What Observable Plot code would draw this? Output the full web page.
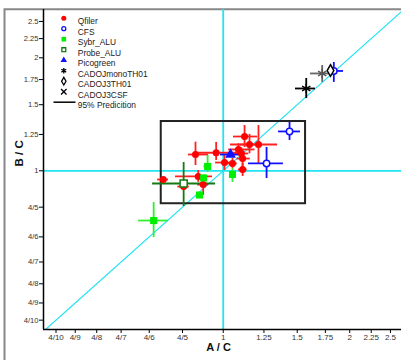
<!DOCTYPE html>
<html><head><meta charset="utf-8">
<script src="https://cdn.jsdelivr.net/npm/d3@7"></script>
<script src="https://cdn.jsdelivr.net/npm/@observablehq/plot@0.6"></script>
<style>body{margin:0;background:white;} svg{display:block;}</style>
</head><body><div id="chart"></div>
<script>
// tick values and labels (same on both axes)
const tickValues = [0.4, 4/9, 0.5, 4/7, 4/6, 0.8, 1, 1.25, 1.5, 1.75, 2, 2.25, 2.5];
const tickLabels = ["4/10","4/9","4/8","4/7","4/6","4/5","1","1.25","1.5","1.75","2","2.25","2.5"];
const xDomain = [0.3735, 2.656];
const yDomain = [0.3777, 2.69];

// rows: [x, y, xLow, xHigh, yLow, yHigh]
const qfiler = [
  [0.720, 0.948, 0.698, 0.741, 0.936, 0.960],
  [0.805, 0.908, 0.780, 0.830, 0.890, 0.925],
  [0.859, 1.105, 0.827, 0.923, 1.033, 1.192],
  [0.962, 1.117, 0.859, 1.081, 1.065, 1.190],
  [0.872, 0.966, 0.770, 0.943, 0.931, 1.002],
  [0.896, 0.919, 0.869, 0.923, 0.860, 0.954],
  [1.007, 1.052, 0.959, 1.070, 1.002, 1.098],
  [1.052, 1.046, 1.017, 1.080, 1.015, 1.078],
  [1.112, 1.078, 1.078, 1.160, 1.015, 1.140],
  [1.112, 1.008, 1.087, 1.140, 0.966, 1.046],
  [1.087, 1.140, 1.030, 1.190, 1.100, 1.180],
  [1.105, 1.112, 1.060, 1.150, 1.070, 1.150],
  [1.124, 1.234, 1.058, 1.207, 1.154, 1.320],
  [1.155, 1.175, 1.100, 1.240, 1.110, 1.250],
  [1.213, 1.175, 1.041, 1.347, 1.046, 1.320]
];
const cfs = [
  [1.268, 1.046, 1.149, 1.391, 0.954, 1.154],
  [1.438, 1.273, 1.354, 1.527, 1.204, 1.345],
  [1.833, 1.845, 1.770, 1.933, 1.720, 1.943]
];
const sybrAlu = [
  [0.918, 1.027, 0.900, 0.935, 0.990, 1.098],
  [0.898, 0.957, 0.885, 0.910, 0.940, 0.975],
  [0.878, 0.862, 0.870, 0.886, 0.855, 0.870],
  [1.052, 0.978, 1.040, 1.065, 0.931, 1.014],
  [0.683, 0.737, 0.629, 0.741, 0.664, 0.823]
];
const probeAlu = [[0.805, 0.925, 0.679, 0.959, 0.803, 1.052]];
const picogreen = [[1.041, 1.105, 0.985, 1.099, 1.095, 1.115]];
const cadojMonoTH01 = [[1.576, 1.657, 1.486, 1.658, 1.558, 1.762]];
const cadoj3TH01 = [[1.800, 1.850, 1.770, 1.840, 1.820, 1.880]];
const cadoj3CSF = [[1.720, 1.817, 1.613, 1.830, 1.720, 1.908]];

// prediction box [xLow, xHigh, yLow, yHigh]
const predictionBox = [[0.712, 1.57, 0.817, 1.353]];
const diagonal = [0.3, 3];

const series = [
  {name:"Qfiler", data:qfiler, symbol:"circle", fill:"#ff0000", stroke:"none", bar:"#ff2020", r:3.5, lr:2.5, ls:"none"},
  {name:"CFS", data:cfs, symbol:"circle", fill:"white", stroke:"#1010ff", bar:"#1010ff", r:3.2, lr:2, ls:"#1010ff"},
  {name:"Sybr_ALU", data:sybrAlu, symbol:"square", fill:"#00ee00", stroke:"none", bar:"#30ee30", r:4, lr:2.6, ls:"none"},
  {name:"Probe_ALU", data:probeAlu, symbol:"square", fill:"white", stroke:"#137a13", bar:"#137a13", r:4, lr:2.2, ls:"#137a13"},
  {name:"Picogreen", data:picogreen, symbol:"triangle", fill:"#1010ff", stroke:"none", bar:"#1010ff", r:4, lr:2.4, ls:"none"},
  {name:"CADOJmonoTH01", data:cadojMonoTH01, symbol:"asterisk", fill:"none", stroke:"black", bar:"black", r:4.5, lr:2.6, ls:"black"},
  {name:"CADOJ3TH01", data:cadoj3TH01, symbol:"diamond", fill:"white", stroke:"black", bar:"#333", r:3.5, lr:2.3, ls:"black"},
  {name:"CADOJ3CSF", data:cadoj3CSF, symbol:"asterisk", fill:"none", stroke:"#555", bar:"#666", r:4.5, lr:2.6, ls:"black", lsym:"times"}
];
const legendNames = ["Qfiler","CFS","Sybr_ALU","Probe_ALU","Picogreen","CADOJmonoTH01","CADOJ3TH01","CADOJ3CSF","95% Predicition"];

const lineSymbol = {draw(ctx){ ctx.moveTo(-11,0); ctx.lineTo(11,0); }};

const marks = [
  Plot.ruleX([1], {stroke:"#22e4f0", strokeWidth:1.8}),
  Plot.ruleY([1], {stroke:"#22e4f0", strokeWidth:1.8}),
  Plot.line(diagonal, {x:d=>d, y:d=>d, stroke:"#22e4f0", strokeWidth:1.2, clip:true}),
  Plot.rect(predictionBox, {x1:d=>d[0], x2:d=>d[1], y1:d=>d[2], y2:d=>d[3], fill:"none", stroke:"#222", strokeWidth:2})
];
for (const s of series) {
  marks.push(Plot.ruleY(s.data, {y:d=>d[1], x1:d=>d[2], x2:d=>d[3], stroke:s.bar, strokeWidth:1.8}));
  marks.push(Plot.ruleX(s.data, {x:d=>d[0], y1:d=>d[4], y2:d=>d[5], stroke:s.bar, strokeWidth:1.8}));
}
for (const s of series) {
  marks.push(Plot.dot(s.data, {x:d=>d[0], y:d=>d[1], symbol:s.symbol, r:s.r, fill:s.fill, stroke:s.stroke, strokeWidth:1.5}));
}
// axes
marks.push(
  Plot.ruleX([xDomain[0]], {stroke:"black", strokeWidth:1.5}),
  Plot.ruleY([yDomain[0]], {stroke:"black", strokeWidth:1.5}),
  Plot.axisX(tickValues, {tickFormat:() => "", tickSize:4, stroke:"black", label:null}),
  Plot.axisY(tickValues, {tickFormat:() => "", tickSize:4, stroke:"black", label:null}),
  Plot.text(tickValues, {x:d=>d, text:(d,i)=>tickLabels[i], frameAnchor:"bottom", dy:10, fontSize:8, fill:"#333"}),
  Plot.text(tickValues, {y:d=>d, text:(d,i)=>tickLabels[i], frameAnchor:"left", dx:-5, textAnchor:"end", fontSize:7.6, fill:"#333"}),
  Plot.text(["A / C"], {frameAnchor:"bottom", dx:-4, dy:21.5, fontWeight:"bold", fontSize:11, fill:"#111"}),
  Plot.text(["B / C"], {frameAnchor:"left", dx:-24, dy:-3, rotate:-90, fontWeight:"bold", fontSize:11.5, fill:"#111"})
);
// legend
legendNames.forEach((name, i) => {
  const s = series.find(t => t.name === name);
  const dy = 8.7 + 10.5 * i;
  if (s) {
    marks.push(Plot.dot([name], {frameAnchor:"top-left", dx:20.3, dy, symbol:s.lsym || s.symbol, r:s.lr, fill:s.fill, stroke:s.ls, strokeWidth:1.3}));
  } else {
    marks.push(Plot.dot([name], {frameAnchor:"top-left", dx:21, dy, symbol:lineSymbol, r:5, stroke:"black", strokeWidth:1.5}));
  }
  marks.push(Plot.text([name], {frameAnchor:"top-left", dx:34.3, dy, text:d=>d, textAnchor:"start", fill:"#222", fontSize:8.4}));
});

const plot = Plot.plot({
  width:401, height:360,
  marginLeft:43, marginRight:0, marginTop:9, marginBottom:31,
  x:{type:"log", domain:xDomain},
  y:{type:"log", domain:yDomain},
  style:{fontFamily:"'Liberation Sans', Arial, sans-serif", fontSize:"9px", background:"white", overflow:"visible"},
  marks
});
const svg = d3.select(plot);
svg.insert("path", ":first-child")
  .attr("d", "M4.5,360 L4.5,9.3 L401,9.3")
  .attr("fill", "none").attr("stroke", "#888").attr("stroke-width", 2);
document.getElementById("chart").appendChild(plot);
</script>
</body></html>
